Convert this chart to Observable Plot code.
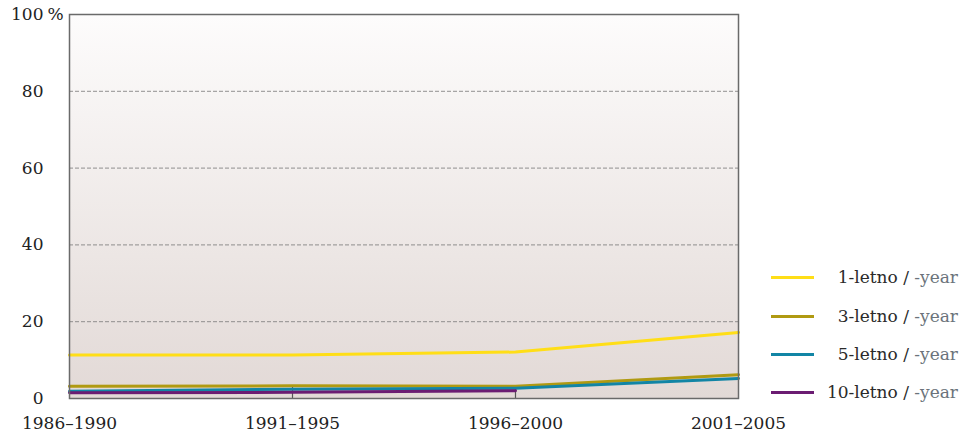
<!DOCTYPE html>
<html>
<head>
<meta charset="utf-8">
<script src="https://cdn.jsdelivr.net/npm/d3@7"></script>
<script src="https://cdn.jsdelivr.net/npm/@observablehq/plot@0.6"></script>
<style>
  html, body { margin: 0; padding: 0; background: #fff; }
  #wrap { position: relative; width: 969px; height: 435px; }
  .leg-line { position: absolute; left: 771px; width: 43px; height: 3px; }
  .leg-text { position: absolute; right: 11px; font-size: 17px; line-height: 20px; color: #2a2a2a; white-space: nowrap; }
  .leg-text .en { color: #6b737b; }
</style>
</head>
<body>
<div id="wrap"></div>
<script>
const periods = ["1986–1990", "1991–1995", "1996–2000", "2001–2005"];
const seriesNames = ["1-letno", "3-letno", "5-letno", "10-letno"];
const seriesColors = ["#ffde17", "#b09a12", "#1285a5", "#6b1c72"];
const oneYear = [11.3, 11.3, 12.1, 17.2];
const threeYear = [3.2, 3.3, 3.2, 6.2];
const fiveYear = [1.9, 2.4, 2.7, 5.2];
const tenYear = [1.5, 1.6, 2.0, null];
const yTicks = [0, 20, 40, 60, 80, 100];
const gridTicks = [20, 40, 60, 80];

const FONT = "DejaVu Serif";
const FS = 17;

const seriesValues = [oneYear, threeYear, fiveYear, tenYear];
const rows = [];
seriesValues.forEach((vals, i) => {
  vals.forEach((v, j) => {
    if (v != null) rows.push({ series: seriesNames[i], period: periods[j], value: v });
  });
});
const drawOrder = ["3-letno", "5-letno", "10-letno", "1-letno"];
rows.sort((a, b) => drawOrder.indexOf(a.series) - drawOrder.indexOf(b.series));

const chart = Plot.plot({
  width: 969,
  height: 435,
  marginLeft: 69,
  marginRight: 231,
  marginTop: 14,
  marginBottom: 37,
  style: { fontFamily: FONT, fontSize: FS + "px", color: "#222", background: "transparent" },
  x: { type: "point", domain: periods, padding: 0, label: null },
  y: { domain: [0, 100], label: null },
  color: { domain: seriesNames, range: seriesColors },
  marks: [
    Plot.frame({ fill: "url(#bgGrad)" }),
    Plot.gridY(gridTicks, { stroke: "#777", strokeOpacity: 1, strokeDasharray: "4,2", strokeWidth: 0.8 }),
    Plot.ruleX(periods.slice(1, 3), { y1: 0, y2: 3, stroke: "#555", strokeWidth: 1.2 }),
    Plot.line(rows, { x: "period", y: "value", stroke: "series", z: "series", strokeWidth: 3 }),
    Plot.frame({ stroke: "#6a6a6a", strokeWidth: 1.5 }),
    Plot.axisY(yTicks, { tickSize: 0, tickPadding: 26, tickFormat: d => String(d), fontSize: FS, fill: "#222" }),
    Plot.text([100], { x: () => periods[0], y: d => d, text: () => "%", dx: -22, textAnchor: "start", fontSize: FS, fill: "#222" }),
    Plot.axisX({ tickSize: 0, tickPadding: 18, fontSize: FS, fill: "#222" })
  ]
});

const svg = d3.select(chart);
svg.selectAll("text").attr("font-family", FONT).style("font-family", FONT);
const defs = svg.insert("defs", ":first-child");
const grad = defs.append("linearGradient").attr("id", "bgGrad")
  .attr("x1", 0).attr("y1", 0).attr("x2", 0).attr("y2", 1);
grad.append("stop").attr("offset", "0%").attr("stop-color", "#fdfcfc");
grad.append("stop").attr("offset", "100%").attr("stop-color", "#e2d9d6");

const wrap = document.getElementById("wrap");
wrap.appendChild(chart);
chart.style.position = "absolute";
chart.style.left = "0";
chart.style.top = "0";

const legendLineY = [277.5, 316, 354, 392.3];
seriesNames.forEach((name, i) => {
  const ln = document.createElement("div");
  ln.className = "leg-line";
  ln.style.top = (legendLineY[i] - 1.5) + "px";
  ln.style.background = seriesColors[i];
  wrap.appendChild(ln);
  const tx = document.createElement("div");
  tx.className = "leg-text";
  tx.style.fontFamily = FONT;
  tx.style.top = (legendLineY[i] - 10.5) + "px";
  tx.innerHTML = name + " / <span class='en'>-year</span>";
  wrap.appendChild(tx);
});
</script>
</body>
</html>
